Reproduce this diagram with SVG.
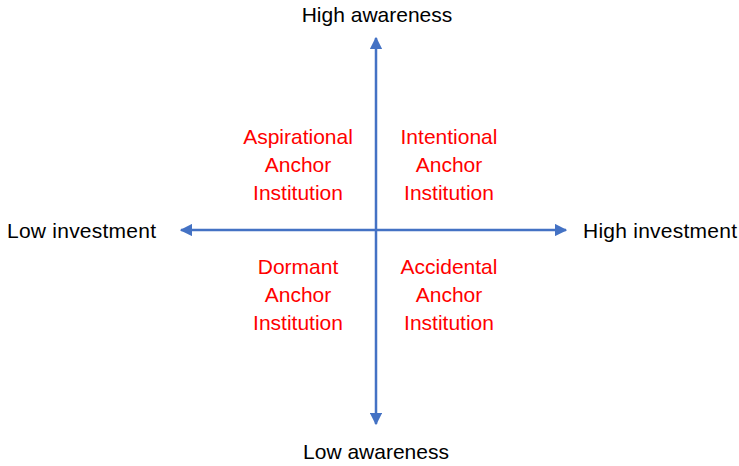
<svg xmlns="http://www.w3.org/2000/svg" width="739" height="466" viewBox="0 0 739 466">
<style>
.ax{font-family:"Liberation Sans",Arial,sans-serif;font-size:21px;fill:#000}
.q{font-family:"Liberation Sans",Arial,sans-serif;font-size:21px;fill:#FF0000;text-anchor:middle}
.ln{stroke:#4472C4;stroke-width:2.5;fill:none}
</style>
<defs>
<marker id="ah" viewBox="0 0 10 10" refX="9" refY="5" markerWidth="5" markerHeight="5" orient="auto-start-reverse" markerUnits="strokeWidth">
<path d="M0,0 L10,5 L0,10 z" fill="#4472C4"/>
</marker>
</defs>
<rect width="739" height="466" fill="#fff"/>
<g id="connectors">
<line class="ln" x1="376" y1="424" x2="376" y2="38" marker-start="url(#ah)" marker-end="url(#ah)"/>
<line class="ln" x1="181" y1="230" x2="566" y2="230" marker-start="url(#ah)" marker-end="url(#ah)"/>
</g>
<g id="high-awareness"><text class="ax" x="377" y="22" text-anchor="middle">High awareness</text></g>
<g id="low-awareness"><text class="ax" x="376" y="459" text-anchor="middle">Low awareness</text></g>
<g id="low-investment"><text class="ax" x="7" y="238" textLength="149">Low investment</text></g>
<g id="high-investment"><text class="ax" x="583" y="238" textLength="154">High investment</text></g>
<g id="aspirational"><text class="q" x="298" y="144">Aspirational</text><text class="q" x="298" y="172">Anchor</text><text class="q" x="298" y="200">Institution</text></g>
<g id="intentional"><text class="q" x="449" y="144">Intentional</text><text class="q" x="449" y="172">Anchor</text><text class="q" x="449" y="200">Institution</text></g>
<g id="dormant"><text class="q" x="298" y="274">Dormant</text><text class="q" x="298" y="302">Anchor</text><text class="q" x="298" y="330">Institution</text></g>
<g id="accidental"><text class="q" x="449" y="274">Accidental</text><text class="q" x="449" y="302">Anchor</text><text class="q" x="449" y="330">Institution</text></g>
</svg>
